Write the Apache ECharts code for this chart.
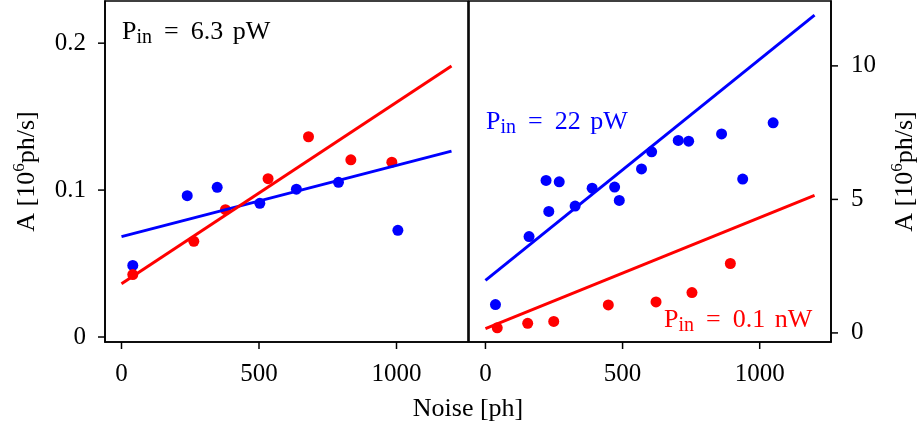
<!DOCTYPE html>
<html>
<head>
<meta charset="utf-8">
<script src="https://cdn.jsdelivr.net/npm/echarts@6/dist/echarts.min.js"></script>
<style>
html,body{margin:0;padding:0;background:#fff;}
#chart{width:920px;height:430px;}
</style>
</head>
<body>
<div id="chart"></div>
<script>
// ---- data ----
const xTicks = [0, 500, 1000];
const leftYTicks = [0, 0.1, 0.2];
const rightYTicks = [0, 5, 10];

const leftBlueX = [41, 239, 348, 503, 636, 789, 1005];
const leftBlueY = [0.0487, 0.0962, 0.1019, 0.0910, 0.1006, 0.1053, 0.0726];
const leftRedX = [41, 263, 378, 533, 680, 834, 983];
const leftRedY = [0.0425, 0.0651, 0.0867, 0.1078, 0.1363, 0.1206, 0.1190];
const leftFitX = [0, 1200];
const leftBlueFitY = [0.0683, 0.1265];
const leftRedFitY = [0.0362, 0.1845];

const rightBlueX = [36.5, 159, 221, 231, 269, 327, 389, 471, 488, 569, 606, 703, 741, 861, 938, 1049];
const rightBlueY = [1.06, 3.61, 5.71, 4.55, 5.66, 4.75, 5.42, 5.46, 4.96, 6.14, 6.78, 7.21, 7.18, 7.45, 5.76, 7.87];
const rightRedX = [43, 154, 249, 448, 622, 753, 893];
const rightRedY = [0.19, 0.36, 0.43, 1.05, 1.16, 1.51, 2.60];
const rightFitX = [0, 1200];
const rightBlueFitY = [1.97, 11.90];
const rightRedFitY = [0.16, 5.15];

const labels = {
  left: '6.3 pW',
  rightBlue: '22 pW',
  rightRed: '0.1 nW',
  xName: 'Noise [ph]'
};

// ---- styling ----
const FONT = '"Liberation Serif", "Times New Roman", serif';
const FS = 25;
const BLUE = '#0000ff';
const RED = '#ff0000';
const TICK_LEN = 7;

function zip(xs, ys) { return xs.map((x, i) => [x, ys[i]]); }

const nameRich = {
  m: { fontFamily: FONT, fontSize: 26, lineHeight: 28, color: '#000' },
  sup: { fontFamily: FONT, fontSize: 17, lineHeight: 32, verticalAlign: 'top', color: '#000' }
};

function pinRich(color) {
  return {
    m: { fontFamily: FONT, fontSize: 26, lineHeight: 28, fill: color, color: color },
    e: { fontFamily: FONT, fontSize: 26, lineHeight: 28, fill: color, color: color, padding: [0, 12, 0, 12] },
    g: { fontFamily: FONT, fontSize: 26, lineHeight: 28, fill: color, color: color, padding: [0, 3, 0, 0] },
    s: { fontFamily: FONT, fontSize: 20, lineHeight: 32, verticalAlign: 'bottom', fill: color, color: color }
  };
}

function pinText(valueUnit) {
  const parts = valueUnit.split(' ');
  return '{m|P}{s|in}{e|=}{g|' + parts[0] + ' }{m|' + parts[1] + '}';
}

const axisLabelBase = { fontFamily: FONT, fontSize: FS, color: '#000', formatter: v => String(v) };
const axLine = { show: true, onZero: false, lineStyle: { color: '#000', width: 1.6 } };

const chart = echarts.init(document.getElementById('chart'), null, { renderer: 'canvas' });

const textGraphics = [
  {
    type: 'text', x: 122, y: 32, z: 100,
    style: { text: pinText(labels.left), rich: pinRich('#000'), fill: '#000', verticalAlign: 'middle', align: 'left' }
  },
  {
    type: 'text', x: 486, y: 122, z: 100,
    style: { text: pinText(labels.rightBlue), rich: pinRich(BLUE), fill: BLUE, verticalAlign: 'middle', align: 'left' }
  },
  {
    type: 'text', x: 664, y: 320, z: 100,
    style: { text: pinText(labels.rightRed), rich: pinRich(RED), fill: RED, verticalAlign: 'middle', align: 'left' }
  },
  {
    type: 'text', x: 468, y: 409, z: 100,
    style: { text: labels.xName, fill: '#000', font: '26px ' + FONT, align: 'center', verticalAlign: 'middle' }
  }
];

const option = {
  animation: false,
  backgroundColor: '#fff',
  grid: [
    { left: 105, top: 1, width: 363, height: 341, show: true, borderColor: '#000', borderWidth: 1.6, backgroundColor: 'transparent' },
    { left: 469, top: 1, width: 362, height: 341, show: true, borderColor: '#000', borderWidth: 1.6, backgroundColor: 'transparent' }
  ],
  xAxis: [
    {
      type: 'value', gridIndex: 0, min: -60, max: 1260, position: 'bottom',
      axisLine: axLine, splitLine: { show: false }, axisTick: { show: false },
      axisLabel: Object.assign({ customValues: xTicks, margin: 20 }, axisLabelBase)
    },
    {
      type: 'value', gridIndex: 1, min: -60, max: 1260, position: 'bottom',
      axisLine: axLine, splitLine: { show: false }, axisTick: { show: false },
      axisLabel: Object.assign({ customValues: xTicks, margin: 20 }, axisLabelBase)
    }
  ],
  yAxis: [
    {
      type: 'value', gridIndex: 0, min: -0.0034, max: 0.2287, position: 'left',
      axisLine: axLine, splitLine: { show: false }, axisTick: { show: false },
      axisLabel: Object.assign({ customValues: leftYTicks, margin: 19 }, axisLabelBase),
      name: '{m|A [10}{sup|6}{m|ph/s]}', nameLocation: 'middle', nameGap: 62,
      nameTextStyle: { rich: nameRich }
    },
    {
      type: 'value', gridIndex: 1, min: -0.34, max: 12.43, position: 'right',
      axisLine: axLine, splitLine: { show: false }, axisTick: { show: false },
      axisLabel: Object.assign({ customValues: rightYTicks, margin: 20 }, axisLabelBase),
      name: '{m|A [10}{sup|6}{m|ph/s]}', nameLocation: 'middle', nameGap: 58,
      nameTextStyle: { rich: nameRich }
    }
  ],
  graphic: textGraphics,
  series: [
    { type: 'scatter', xAxisIndex: 0, yAxisIndex: 0, data: zip(leftBlueX, leftBlueY), symbolSize: 11, itemStyle: { color: BLUE, opacity: 1 }, z: 2 },
    { type: 'scatter', xAxisIndex: 0, yAxisIndex: 0, data: zip(leftRedX, leftRedY), symbolSize: 11, itemStyle: { color: RED, opacity: 1 }, z: 3 },
    { type: 'line', xAxisIndex: 0, yAxisIndex: 0, data: zip(leftFitX, leftBlueFitY), showSymbol: false, symbol: 'none', lineStyle: { color: BLUE, width: 3 }, z: 4 },
    { type: 'line', xAxisIndex: 0, yAxisIndex: 0, data: zip(leftFitX, leftRedFitY), showSymbol: false, symbol: 'none', lineStyle: { color: RED, width: 3 }, z: 5 },

    { type: 'scatter', xAxisIndex: 1, yAxisIndex: 1, data: zip(rightBlueX, rightBlueY), symbolSize: 11, itemStyle: { color: BLUE, opacity: 1 }, z: 2 },
    { type: 'scatter', xAxisIndex: 1, yAxisIndex: 1, data: zip(rightRedX, rightRedY), symbolSize: 11, itemStyle: { color: RED, opacity: 1 }, z: 3 },
    { type: 'line', xAxisIndex: 1, yAxisIndex: 1, data: zip(rightFitX, rightBlueFitY), showSymbol: false, symbol: 'none', lineStyle: { color: BLUE, width: 3 }, z: 4 },
    { type: 'line', xAxisIndex: 1, yAxisIndex: 1, data: zip(rightFitX, rightRedFitY), showSymbol: false, symbol: 'none', lineStyle: { color: RED, width: 3 }, z: 5 }
  ]
};

chart.setOption(option);

// ---- tick marks, placed through the library's own axis scales ----
function tickLine(x1, y1, x2, y2) {
  return { type: 'line', z: 50, silent: true,
    shape: { x1: x1, y1: y1, x2: x2, y2: y2 },
    style: { stroke: '#000', lineWidth: 1.5 } };
}
const ticks = [];
[0, 1].forEach(function (gi) {
  const rect = chart.getModel().getComponent('grid', gi).coordinateSystem.getRect();
  const bottom = rect.y + rect.height;
  xTicks.forEach(function (v) {
    const px = chart.convertToPixel({ xAxisIndex: gi }, v);
    ticks.push(tickLine(px, bottom, px, bottom + TICK_LEN));
  });
});
(function () {
  const r0 = chart.getModel().getComponent('grid', 0).coordinateSystem.getRect();
  leftYTicks.forEach(function (v) {
    const py = chart.convertToPixel({ yAxisIndex: 0 }, v);
    ticks.push(tickLine(r0.x, py, r0.x - TICK_LEN, py));
  });
  const r1 = chart.getModel().getComponent('grid', 1).coordinateSystem.getRect();
  const right = r1.x + r1.width;
  rightYTicks.forEach(function (v) {
    const py = chart.convertToPixel({ yAxisIndex: 1 }, v);
    ticks.push(tickLine(right, py, right + TICK_LEN, py));
  });
})();

chart.setOption({ graphic: textGraphics.concat(ticks) });
</script>
</body>
</html>
